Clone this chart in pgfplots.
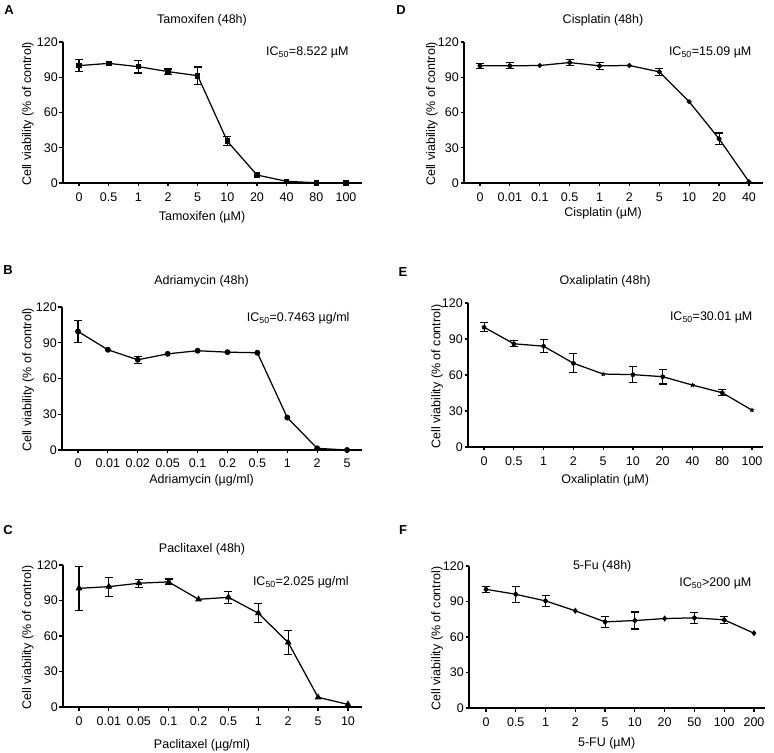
\documentclass[border=0pt]{standalone}
\usepackage{pgfplots}
\pgfplotsset{compat=1.18}
\usepackage{fontspec}
\setmainfont{Liberation Sans}
\begin{document}
\begin{tikzpicture}
\useasboundingbox (0,0) rectangle (774bp,753bp);
\pgfplotsset{
  panel/.style={
    scale only axis, ymin=0, ymax=120,
    ytick={0,30,60,90,120}, xtick={0,...,9},
    axis x line*=bottom, axis y line*=left,
    axis line style={line width=1.7bp,-},
    tick align=outside, major tick length=3.5bp,
    tick style={line width=1.2bp, black},
    font=\fontsize{12.5bp}{14bp}\selectfont,
    /pgf/number format/assume math mode=true,
    clip=false,
    yticklabel style={inner sep=1.5bp},
    xticklabel style={inner sep=2bp, yshift=-4.5bp},
    ylabel={Cell viability (\% of control)},
  },
  dline/.style={black, line width=1.25bp, mark options={solid, fill=black, draw=black}},
  ebars/.style={black, only marks, mark=none, forget plot,
    error bars/.cd, y dir=both, y explicit,
    error bar style={line width=1.15bp, black},
    error mark options={black, line width=1.15bp, mark size=4bp, rotate=90}},
}
\tikzset{ictext/.style={anchor=east, font=\fontsize{12.5bp}{14bp}\selectfont}}
% Letters
\node[font=\fontsize{13bp}{15bp}\selectfont\bfseries] at (9bp,743bp) {A};
\node[font=\fontsize{13bp}{15bp}\selectfont\bfseries] at (401bp,743bp) {D};
\node[font=\fontsize{13bp}{15bp}\selectfont\bfseries] at (8bp,483bp) {B};
\node[font=\fontsize{13bp}{15bp}\selectfont\bfseries] at (403bp,481bp) {E};
\node[font=\fontsize{13bp}{15bp}\selectfont\bfseries] at (8bp,223bp) {C};
\node[font=\fontsize{13bp}{15bp}\selectfont\bfseries] at (403bp,223bp) {F};

% ---------------- A Tamoxifen
\begin{axis}[panel, at={(63bp,570bp)}, anchor=south west, width=299bp, height=141bp,
  xmin=-0.54, xmax=9.54,
  xticklabels={0,0.5,1,2,5,10,20,40,80,100},
  xlabel={Tamoxifen (µM)},
  xlabel style={at={(axis description cs:0.465,-0.241)}, anchor=center},
  ylabel style={at={(axis description cs:-0.117,0.49)}, anchor=center}]
\addplot[dline, mark=square*, mark size=2.2bp] coordinates {
(0,99.9) (1,101.8) (2,99.0) (3,94.8) (4,91.3) (5,35.5) (6,6.8) (7,1.4) (8,0.2) (9,0.2)};
\addplot[ebars] coordinates {
(0,99.9) +- (0,5.1) (2,99.0) +- (0,5.4) (3,94.8) +- (0,2.2) (4,91.3) +- (0,7.4) (5,35.5) +- (0,3.8)};
\node at (axis description cs:0.465,1.156) {Tamoxifen (48h)};
\node[ictext] at (axis description cs:0.967,0.929) {IC\textsubscript{50}=8.522 µM};
\end{axis}

% ---------------- D Cisplatin
\begin{axis}[panel, at={(464bp,570bp)}, anchor=south west, width=299bp, height=141bp,
  xmin=-0.535, xmax=9.47,
  xticklabels={0,0.01,0.1,0.5,1,2,5,10,20,40},
  xlabel={Cisplatin (µM)},
  xlabel style={at={(axis description cs:0.465,-0.213)}, anchor=center},
  ylabel style={at={(axis description cs:-0.107,0.49)}, anchor=center}]
\addplot[dline, mark=*, mark size=1.8bp] coordinates {
(0,99.7) (1,99.7) (2,100) (3,102.5) (4,99.7) (5,100) (6,94.6) (7,69.2) (8,37.6) (9,1.1)};
\addplot[ebars] coordinates {
(0,99.7) +- (0,2) (1,99.7) +- (0,2.5) (3,102.5) +- (0,2.5) (4,99.7) +- (0,3) (6,94.6) +- (0,3) (8,37.6) +- (0,5)};
\node at (axis description cs:0.465,1.156) {Cisplatin (48h)};
\node[ictext] at (axis description cs:0.973,0.929) {IC\textsubscript{50}=15.09 µM};
\end{axis}

% ---------------- B Adriamycin
\begin{axis}[panel, at={(62bp,303bp)}, anchor=south west, width=300bp, height=143bp,
  xmin=-0.535, xmax=9.5,
  xticklabels={0,0.01,0.02,0.05,0.1,0.2,0.5,1,2,5},
  xticklabel style={yshift=1.5bp},
  xlabel={Adriamycin (µg/ml)},
  xlabel style={at={(axis description cs:0.465,-0.21)}, anchor=center},
  ylabel style={at={(axis description cs:-0.113,0.49)}, anchor=center}]
\addplot[dline, mark=*, mark size=2.3bp] coordinates {
(0,99.5) (1,84.1) (2,75.7) (3,80.7) (4,83.3) (5,82.1) (6,81.6) (7,27.2) (8,1.4) (9,0)};
\addplot[ebars] coordinates {
(0,99.5) +- (0,9.3) (2,75.7) +- (0,3)};
\node at (axis description cs:0.465,1.177) {Adriamycin (48h)};
\node[ictext] at (axis description cs:0.97,0.923) {IC\textsubscript{50}=0.7463 µg/ml};
\end{axis}

% ---------------- E Oxaliplatin
\begin{axis}[panel, at={(468bp,306bp)}, anchor=south west, width=295bp, height=144bp,
  xmin=-0.54, xmax=9.37,
  xticklabels={0,0.5,1,2,5,10,20,40,80,100},
  xlabel={Oxaliplatin (µM)},
  xlabel style={at={(axis description cs:0.465,-0.229)}, anchor=center},
  ylabel style={at={(axis description cs:-0.105,0.49)}, anchor=center}]
\addplot[dline, mark=star, mark size=2.3bp, mark options={line width=1.1bp}] coordinates {
(0,99.8) (1,86) (2,84) (3,69.8) (4,60.8) (5,60.3) (6,58.6) (7,51.6) (8,45.2) (9,30.7)};
\addplot[ebars] coordinates {
(0,99.8) +- (0,3.7) (1,86) +- (0,2.5) (2,84) +- (0,5.3) (3,69.8) +- (0,7.8) (5,60.3) +- (0,6.7) (6,58.6) +- (0,6.1) (8,45.2) +- (0,2.5)};
\node at (axis description cs:0.465,1.15) {Oxaliplatin (48h)};
\node[ictext] at (axis description cs:0.976,0.903) {IC\textsubscript{50}=30.01 µM};
\end{axis}

% ---------------- C Paclitaxel
\begin{axis}[panel, at={(63bp,46bp)}, anchor=south west, width=299bp, height=142bp,
  xmin=-0.535, xmax=9.47,
  xticklabels={0,0.01,0.05,0.1,0.2,0.5,1,2,5,10},
  xlabel={Paclitaxel (µg/ml)},
  xlabel style={at={(axis description cs:0.465,-0.268)}, anchor=center},
  ylabel style={at={(axis description cs:-0.117,0.49)}, anchor=center}]
\addplot[dline, mark=triangle*, mark size=2.7bp] coordinates {
(0,100.3) (1,101.7) (2,104.6) (3,105.7) (4,91) (5,92.7) (6,79.3) (7,54.5) (8,8.2) (9,2.2)};
\addplot[ebars] coordinates {
(0,100.3) +- (0,18.5) (1,101.7) +- (0,8) (2,104.6) +- (0,3.5) (3,105.7) +- (0,2.5) (5,92.7) +- (0,5) (6,79.3) +- (0,8) (7,54.5) +- (0,10)};
\node at (axis description cs:0.465,1.113) {Paclitaxel (48h)};
\node[ictext] at (axis description cs:0.967,0.88) {IC\textsubscript{50}=2.025 µg/ml};
\end{axis}

% ---------------- F 5-Fu
\begin{axis}[panel, at={(469bp,45bp)}, anchor=south west, width=296bp, height=142bp,
  xmin=-0.57, xmax=9.37,
  xticklabels={0,0.5,1,2,5,10,20,50,100,200},
  xlabel={5-FU (µM)},
  xlabel style={at={(axis description cs:0.465,-0.246)}, anchor=center},
  ylabel style={at={(axis description cs:-0.108,0.49)}, anchor=center}]
\addplot[dline, mark=diamond*, mark size=2.1bp] coordinates {
(0,100.3) (1,96.1) (2,90.5) (3,82.1) (4,72.8) (5,73.9) (6,75.6) (7,76.2) (8,74.5) (9,63.2)};
\addplot[ebars] coordinates {
(0,100.3) +- (0,2.5) (1,96.1) +- (0,6.7) (2,90.5) +- (0,4.5) (4,72.8) +- (0,4.6) (5,73.9) +- (0,7.2) (7,76.2) +- (0,4.5) (8,74.5) +- (0,3)};
\node at (axis description cs:0.45,1.0) {5-Fu (48h)};
\node[ictext] at (axis description cs:0.966,0.88) {IC\textsubscript{50}>200 µM};
\end{axis}
\end{tikzpicture}
\end{document}
